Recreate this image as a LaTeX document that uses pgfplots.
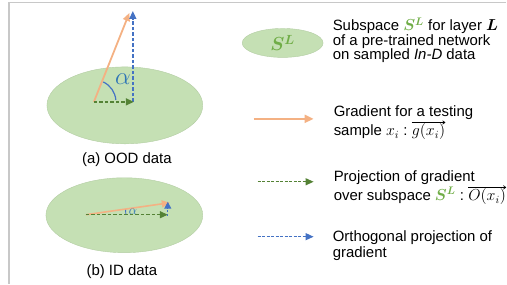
\RequirePackage{fix-cm}
\documentclass[border=0pt]{standalone}
\usepackage{amsmath}
\usepackage{fontspec}
\setmainfont{Liberation Sans}
\usepackage{pgfplots}
\pgfplotsset{compat=1.18}
\usetikzlibrary{arrows.meta}
\DeclareMathSizes{15}{16}{11}{9}
\definecolor{ellfill}{HTML}{C5E0B4}
\definecolor{elledge}{HTML}{B3CDA3}
\definecolor{gorange}{HTML}{F4B183}
\definecolor{pgreen}{HTML}{548235}
\definecolor{oblue}{HTML}{4472C4}
\definecolor{ablue}{HTML}{2E75B6}
\definecolor{sgreen}{HTML}{70AD47}
\definecolor{frame}{HTML}{C8C8C8}
\begin{document}
\begin{tikzpicture}
\begin{axis}[width=507bp,height=284bp,scale only axis,
  xmin=0,xmax=507,ymin=0,ymax=284,hide axis,clip=false]
\path (axis cs:0,0) rectangle (axis cs:507,284);
% frame
\addplot[frame,line width=1.3bp] coordinates {(9,0) (9,281.5) (507,281.5)};
% ellipses
\draw[fill=ellfill,draw=elledge,line width=0.4bp] (axis cs:125,178.5) ellipse [x radius=78, y radius=38.5];
\draw[fill=ellfill,draw=elledge,line width=0.4bp] (axis cs:124.5,68.5) ellipse [x radius=78.5, y radius=37.5];
\draw[fill=ellfill,draw=elledge,line width=0.4bp] (axis cs:283,241) ellipse [x radius=40.5, y radius=14.5];
% OOD vectors
\addplot[gorange,line width=1.8bp,-{Triangle[length=8bp,width=7bp]}] coordinates {(94,182) (129.5,271)};
\addplot[oblue,line width=1.4bp,dash pattern=on 3.5bp off 2bp,-{Triangle[length=8bp,width=7bp]}] coordinates {(133,182) (133,273)};
\addplot[pgreen,line width=1.4bp,dash pattern=on 3.5bp off 2bp,-{Triangle[length=8bp,width=7bp]}] coordinates {(94,182) (134,182)};
\draw[oblue,line width=1.2bp] (axis cs:116,183.9) arc[start angle=5,end angle=65,radius=22];
\node[text=ablue,font=\fontsize{25}{26}\selectfont] at (axis cs:123,205) {$\alpha$};
% ID vectors
\addplot[gorange,line width=1.6bp,-{Triangle[length=8bp,width=7bp]}] coordinates {(86,69) (170,81)};
\addplot[pgreen,line width=1.4bp,dash pattern=on 3.5bp off 2bp,-{Triangle[length=8bp,width=7bp]}] coordinates {(86,69) (168,69)};
\addplot[oblue,line width=1.2bp,dash pattern=on 2bp off 1.5bp,-{Triangle[length=7bp,width=7bp]}] coordinates {(168,68) (168,82)};
\draw[oblue,line width=0.9bp] (axis cs:126,69.7) arc[start angle=1,end angle=7,radius=40];
\node[text=ablue,font=\fontsize{13}{14}\selectfont] at (axis cs:133,72.5) {$\alpha$};
% captions
\node[font=\fontsize{15}{18}\selectfont] at (axis cs:127,124) {(a) OOD data};
\node[font=\fontsize{15}{18}\selectfont] at (axis cs:122,12) {(b) ID data};
% legend symbols
\node[text=sgreen,font=\fontsize{19}{21}\selectfont] at (axis cs:283,241) {$\boldsymbol{S^{L}}$};
\addplot[gorange,line width=2bp,-{Triangle[length=9bp,width=8bp]}] coordinates {(254,165) (314,165)};
\addplot[pgreen,line width=1.2bp,dash pattern=on 3bp off 1.5bp,-{Triangle[length=8bp,width=7bp]}] coordinates {(258,102) (314,102)};
\addplot[oblue,line width=1.2bp,dash pattern=on 3bp off 1.5bp,-{Triangle[length=8bp,width=7bp]}] coordinates {(258,47) (314,47)};
% legend texts
\begin{scope}[every node/.style={anchor=base west,inner sep=0pt,font=\fontsize{15}{18}\selectfont}]
\node at (axis cs:333,253) {Subspace {\color{sgreen}$\boldsymbol{S^{L}}$} for layer $\boldsymbol{L}$};
\node at (axis cs:333,238.5) {of a pre-trained network};
\node at (axis cs:333,224) {on sampled \textit{In-D} data};
\node at (axis cs:334,167) {Gradient for a testing};
\node (s1) at (axis cs:334,148) {sample $x_i$ :\hspace*{4bp}};
\node (g) at (s1.base east) {$g(x_i)$};
\node at (axis cs:334,102) {Projection of gradient};
\node (s2) at (axis cs:334,83) {over subspace {\color{sgreen}$\boldsymbol{S^{L}}$} :\hspace*{4bp}};
\node (o) at (s2.base east) {$O(x_i)$};
\end{scope}
\draw[line width=0.6bp,-{To[length=3bp,width=4bp]}] ([yshift=1.2bp]g.north west) -- ([yshift=1.2bp]g.north east);
\draw[line width=0.6bp,-{To[length=3bp,width=4bp]}] ([yshift=1.2bp]o.north west) -- ([yshift=1.2bp]o.north east);
\begin{scope}[every node/.style={anchor=base west,inner sep=0pt,font=\fontsize{15}{18}\selectfont}]
\node at (axis cs:333,42) {Orthogonal projection of};
\node at (axis cs:333,26) {gradient};
\end{scope}
\end{axis}
\end{tikzpicture}
\end{document}
